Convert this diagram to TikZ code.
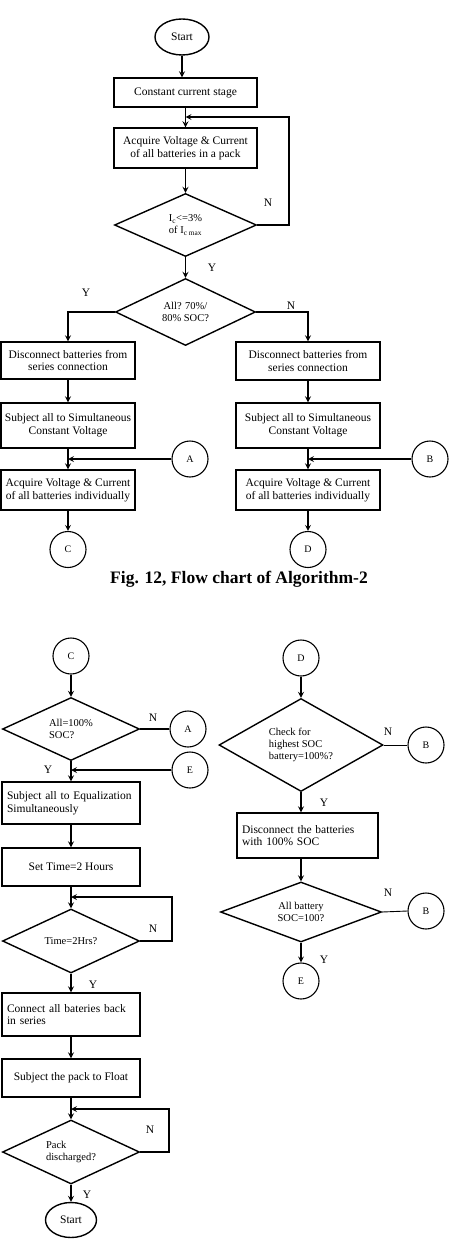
\documentclass[tikz,border=0pt]{standalone}
\usepackage{fontspec}
\setmainfont{Liberation Serif}
\usepackage{tikz}
\usetikzlibrary{shapes.geometric, arrows, positioning}
\tikzstyle{startstop} = [ellipse, draw=black, line width=1.4pt, minimum width=54pt, minimum height=36pt, inner sep=0pt]
\tikzstyle{process} = [rectangle, draw=black, line width=1.4pt, minimum width=143pt, align=center, inner sep=2pt]
\tikzstyle{processl} = [process, align=left, inner xsep=5pt]
\tikzstyle{decision} = [diamond, draw=black, line width=1.4pt, aspect=2, inner sep=0pt, align=center, font=\fontsize{10.5}{12}\selectfont]
\tikzstyle{connector} = [circle, draw=black, line width=1.1pt, minimum size=36pt, inner sep=0pt, font=\fontsize{10}{12}\selectfont]
\tikzstyle{arrow} = [line width=1.6pt, ->, >=stealth]
\tikzstyle{line} = [line width=1.6pt]
\tikzstyle{thinline} = [line width=0.9pt]
\tikzstyle{yn} = [inner sep=0pt]
\hyphenpenalty=10000

\begin{document}
\begin{tikzpicture}[x=1pt, y=-1pt, every node/.style={font=\fontsize{11.5}{12.7}\selectfont}]
	\useasboundingbox (0,0) rectangle (449,1252);
	% Algorithmus 2, Teil 1
	\node[startstop] (start1) at (182,37) {Start};
	\node[process, minimum height=29pt] (ccs) at (185.5,92.5) {Constant current stage};
	\node[process, minimum height=40pt] (acq) at (185.5,148) {Acquire Voltage \& Current\\of all batteries in a pack};
	\node[decision, minimum width=142pt, minimum height=63pt] (icmax) at (185.5,225) {I\textsubscript{c}<=3\%\\of I\textsubscript{c max}};
	\node[decision, minimum width=140pt, minimum height=67pt] (soc) at (185.5,312) {All? 70\%/\\80\% SOC?};
	\coordinate (fbacq) at (185.5,117); % Rueckfuehrung
	\draw[arrow] (start1.south) -- (start1.south |- ccs.north);
	\draw[arrow] (ccs) -- (acq);
	\draw[arrow] (acq) -- (icmax);
	\draw[arrow] (icmax) -- (soc);
	\draw[arrow] (icmax.east) -- ++(32,0) |- (fbacq);
	\node[yn] (nic) at (268,203) {N};
	\node[yn] (yic) at (212,268) {Y};
	% linker Zweig
	\node[process, minimum width=134pt, minimum height=37pt] (discl) at (68,360.5) {Disconnect batteries from\\series connection};
	\node[process, minimum width=134pt, minimum height=45pt] (subjl) at (68,425.5) {Subject all to Simultaneous\\Constant Voltage};
	\node[process, minimum width=134pt, minimum height=40pt] (acql) at (68,490) {Acquire Voltage \& Current\\of all batteries individually};
	\node[connector] (cona) at (190,459) {A};
	\node[connector] (conc) at (68,549.5) {C};
	\draw[arrow] (soc.west) -| (discl.north);
	\draw[arrow] (discl) -- (subjl);
	\draw[arrow] (subjl) -- (acql);
	\draw[arrow] (cona.west) -- (cona.west -| subjl.south);
	\draw[arrow] (acql) -- (conc);
	\node[yn] (ysoc) at (86,293) {Y};
	% rechter Zweig
	\node[process, minimum width=144pt, minimum height=38pt] (discr) at (308,361) {Disconnect batteries from\\series connection};
	\node[process, minimum width=144pt, minimum height=45pt] (subjr) at (308,425.5) {Subject all to Simultaneous\\Constant Voltage};
	\node[process, minimum width=144pt, minimum height=40pt] (acqr) at (308,490) {Acquire Voltage \& Current\\of all batteries individually};
	\node[connector] (conb) at (430,459) {B};
	\node[connector] (cond) at (308,549.5) {D};
	\draw[arrow] (soc.east) -| (discr.north);
	\draw[arrow] (discr) -- (subjr);
	\draw[arrow] (subjr) -- (acqr);
	\draw[arrow] (conb.west) -- (conb.west -| subjr.south);
	\draw[arrow] (acqr) -- (cond);
	\node[yn] (nsoc) at (291,306) {N};
	% Bildunterschrift
	\node[font=\fontsize{17.5}{20}\selectfont\bfseries] (caption) at (239,579) {Fig. 12, Flow chart of Algorithm-2};
	% Algorithmus 2, Teil 2 links
	\node[connector] (conc2) at (71,656) {C};
	\node[decision, minimum width=137pt, minimum height=63pt, align=left] (all100) at (71,729) {All=100\%\\SOC?};
	\node[connector] (cona2) at (188,729) {A};
	\node[connector] (cone) at (190,770) {E};
	\node[processl, minimum width=138pt, minimum height=42pt, text width=128pt] (equal) at (71,803) {Subject all to Equalization\\Simultaneously};
	\node[process, minimum width=138pt, minimum height=38pt] (settime) at (71,867) {Set Time=2 Hours};
	\node[decision, minimum width=137pt, minimum height=64pt] (time) at (71,941) {Time=2Hrs?};
	\node[processl, minimum width=138pt, minimum height=43pt, text width=128pt] (connect) at (71,1014.5) {Connect all bateries back\\in series};
	\node[process, minimum width=138pt, minimum height=38pt] (float) at (71,1078) {Subject the pack to Float};
	\node[decision, minimum width=137pt, minimum height=64pt, align=left] (pack) at (71,1152) {Pack\\discharged?};
	\node[startstop, minimum width=51pt, minimum height=35pt] (start2) at (71,1220) {Start};
	\coordinate (fbtime) at (71,897); % Rueckfuehrung Zeit
	\coordinate (fbpack) at (71,1109); % Rueckfuehrung Pack
	\draw[arrow] (conc2) -- (all100);
	\draw[line] (all100.east) -- (cona2.west);
	\draw[arrow] (all100) -- (equal);
	\draw[arrow] (cone.west) -- (cone.west -| equal.north);
	\draw[arrow] (equal) -- (settime);
	\draw[arrow] (settime) -- (time);
	\draw[arrow] (time.east) -- ++(32,0) |- (fbtime);
	\draw[arrow] (time) -- (connect);
	\draw[arrow] (connect) -- (float);
	\draw[arrow] (float) -- (pack);
	\draw[arrow] (pack.east) -- ++(29,0) |- (fbpack);
	\draw[arrow] (pack) -- (start2);
	\node[yn] (nall) at (153,718) {N};
	\node[yn] (yall) at (48,770) {Y};
	\node[yn] (ntime) at (153,929) {N};
	\node[yn] (ytime) at (93,985) {Y};
	\node[yn] (npack) at (150,1130) {N};
	\node[yn] (ypack) at (87,1195) {Y};
	% Algorithmus 2, Teil 2 rechts
	\node[connector] (cond2) at (301,658) {D};
	\node[decision, minimum width=164pt, minimum height=93pt, align=left] (highest) at (301,745) {Check for\\highest SOC\\battery=100\%?};
	\node[connector] (conb2) at (426,745) {B};
	\node[processl, minimum width=141pt, minimum height=45pt, text width=131pt] (discf) at (307.5,835.5) {Disconnect the batteries\\with 100\% SOC};
	\node[decision, minimum width=161pt, minimum height=60pt] (allbat) at (301,912) {All battery\\SOC=100?};
	\node[connector] (conb3) at (426,911) {B};
	\node[connector] (cone2) at (301,981) {E};
	\draw[arrow] (cond2) -- (highest);
	\draw[thinline] (highest.east) -- (conb2.west);
	\draw[arrow] (highest.south) -- (highest.south |- discf.north);
	\draw[arrow] (allbat.north |- discf.south) -- (allbat.north);
	\draw[thinline] (allbat.east) -- (conb3.west);
	\draw[arrow] (allbat) -- (cone2);
	\node[yn] (nhigh) at (388,732) {N};
	\node[yn] (yhigh) at (324,803) {Y};
	\node[yn] (nbat) at (388,893) {N};
	\node[yn] (ybat) at (324,960) {Y};
\end{tikzpicture}
\end{document}
